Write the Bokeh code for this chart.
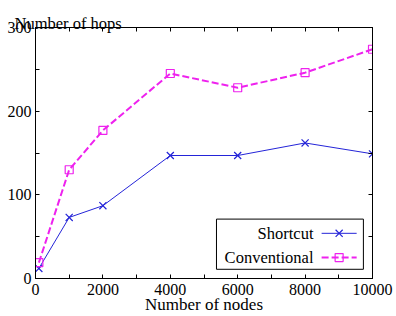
from bokeh.plotting import figure
from bokeh.models import (Range1d, LinearAxis, FixedTicker, BoxAnnotation, Label)
from bokeh.embed import file_html
from bokeh.resources import INLINE

# Number of nodes in the network
nodes = [100, 1000, 2000, 4000, 6000, 8000, 10000]
# Average number of hops per routing scheme
shortcut_hops = [12, 73, 87, 147, 147, 162, 149]
conventional_hops = [19, 130, 177, 245, 228, 246, 274]

x_ticks = [0, 2000, 4000, 6000, 8000, 10000]
x_minor = [1000, 3000, 5000, 7000, 9000]
y_ticks = [0, 100, 200, 300]
y_minor = [50, 150, 250]

FONT = "Liberation Serif"
TEXT_SIZE = "16.5px"
TICK_SIZE = "16px"
BLUE = "#2424d8"
MAGENTA = "#ee22ee"

p = figure(width=396, height=316, output_backend="svg", toolbar_location=None,
           x_range=Range1d(0, 10000), y_range=Range1d(0, 300),
           x_axis_location=None, y_axis_location=None,
           min_border_left=35, min_border_right=24, min_border_top=27,
           min_border_bottom=0)
p.grid.visible = False
p.background_fill_color = "white"
p.border_fill_color = "white"
p.outline_line_color = "black"
p.outline_line_width = 1

# y-axis heading sits at the top-left, above the frame
p.title.text = "Number of hops"
p.title.align = "left"
p.title.vertical_align = "top"
p.title.offset = -21
p.title.text_font = FONT
p.title.text_font_size = TEXT_SIZE
p.title.text_font_style = "normal"
p.title.text_color = "black"
p.title.standoff = -15


def style_ticks(ax):
    ax.axis_line_color = "black"
    ax.major_tick_in = 4
    ax.major_tick_out = 0
    ax.minor_tick_in = 4
    ax.minor_tick_out = 0
    ax.major_tick_line_color = "black"
    ax.minor_tick_line_color = "black"
    return ax


def labelled_axis(ticks, minor, standoff):
    ax = style_ticks(LinearAxis(ticker=FixedTicker(ticks=ticks, minor_ticks=minor)))
    ax.major_label_text_font = FONT
    ax.major_label_text_font_size = TICK_SIZE
    ax.major_label_text_color = "black"
    ax.major_label_standoff = standoff
    return ax


def mirror_axis(ticks, minor):
    # tick marks only: every position goes in as a minor tick, so no labels are drawn
    ax = style_ticks(LinearAxis(ticker=FixedTicker(ticks=[], minor_ticks=ticks + minor)))
    ax.major_label_standoff = 0
    return ax


bottom = labelled_axis(x_ticks, x_minor, 5)
bottom.axis_label = "Number of nodes"
bottom.axis_label_text_font = FONT
bottom.axis_label_text_font_size = "17px"
bottom.axis_label_text_font_style = "normal"
bottom.axis_label_text_color = "black"
bottom.axis_label_standoff = -3
p.add_layout(bottom, "below")
p.add_layout(labelled_axis(y_ticks, y_minor, 4), "left")

top = mirror_axis(x_ticks, x_minor)
# no major ticks are drawn on this axis; the outward length only pads its panel
top.major_tick_out = 15
p.add_layout(top, "above")
p.add_layout(mirror_axis(y_ticks, y_minor), "right")

# Series
p.line(nodes, shortcut_hops, line_color=BLUE, line_width=1)
p.scatter(nodes, shortcut_hops, marker="x", size=10, line_color=BLUE, line_width=1.2)
p.line(nodes, conventional_hops, line_color=MAGENTA, line_width=2, line_dash="7 3")
p.scatter(nodes, conventional_hops, marker="square", size=8, fill_color=None,
          line_color=MAGENTA, line_width=1.2)

# Legend box with labels on the left and samples on the right
p.add_layout(BoxAnnotation(left=5370, right=9730, bottom=11, top=71,
                           fill_color="white", fill_alpha=1,
                           line_color="black", line_alpha=1, line_width=1,
                           level="underlay"))
legend_text_x = 8250
rows = [("Shortcut", 54, BLUE, "x", 1, None),
        ("Conventional", 25, MAGENTA, "square", 2, "7 3")]
for name, ly, color, marker, lw, dash in rows:
    p.add_layout(Label(x=legend_text_x, y=ly, text=name, text_align="right",
                       text_baseline="middle", text_font=FONT,
                       text_font_size=TEXT_SIZE, text_color="black"))
    if dash:
        p.line([8490, 9530], [ly, ly], line_color=color, line_width=lw, line_dash=dash)
    else:
        p.line([8490, 9530], [ly, ly], line_color=color, line_width=lw)
    p.scatter([9010], [ly], marker=marker, size=10 if marker == "x" else 8,
              fill_color=None, line_color=color, line_width=1.2)

open("out.html", "w").write(file_html(p, INLINE))
